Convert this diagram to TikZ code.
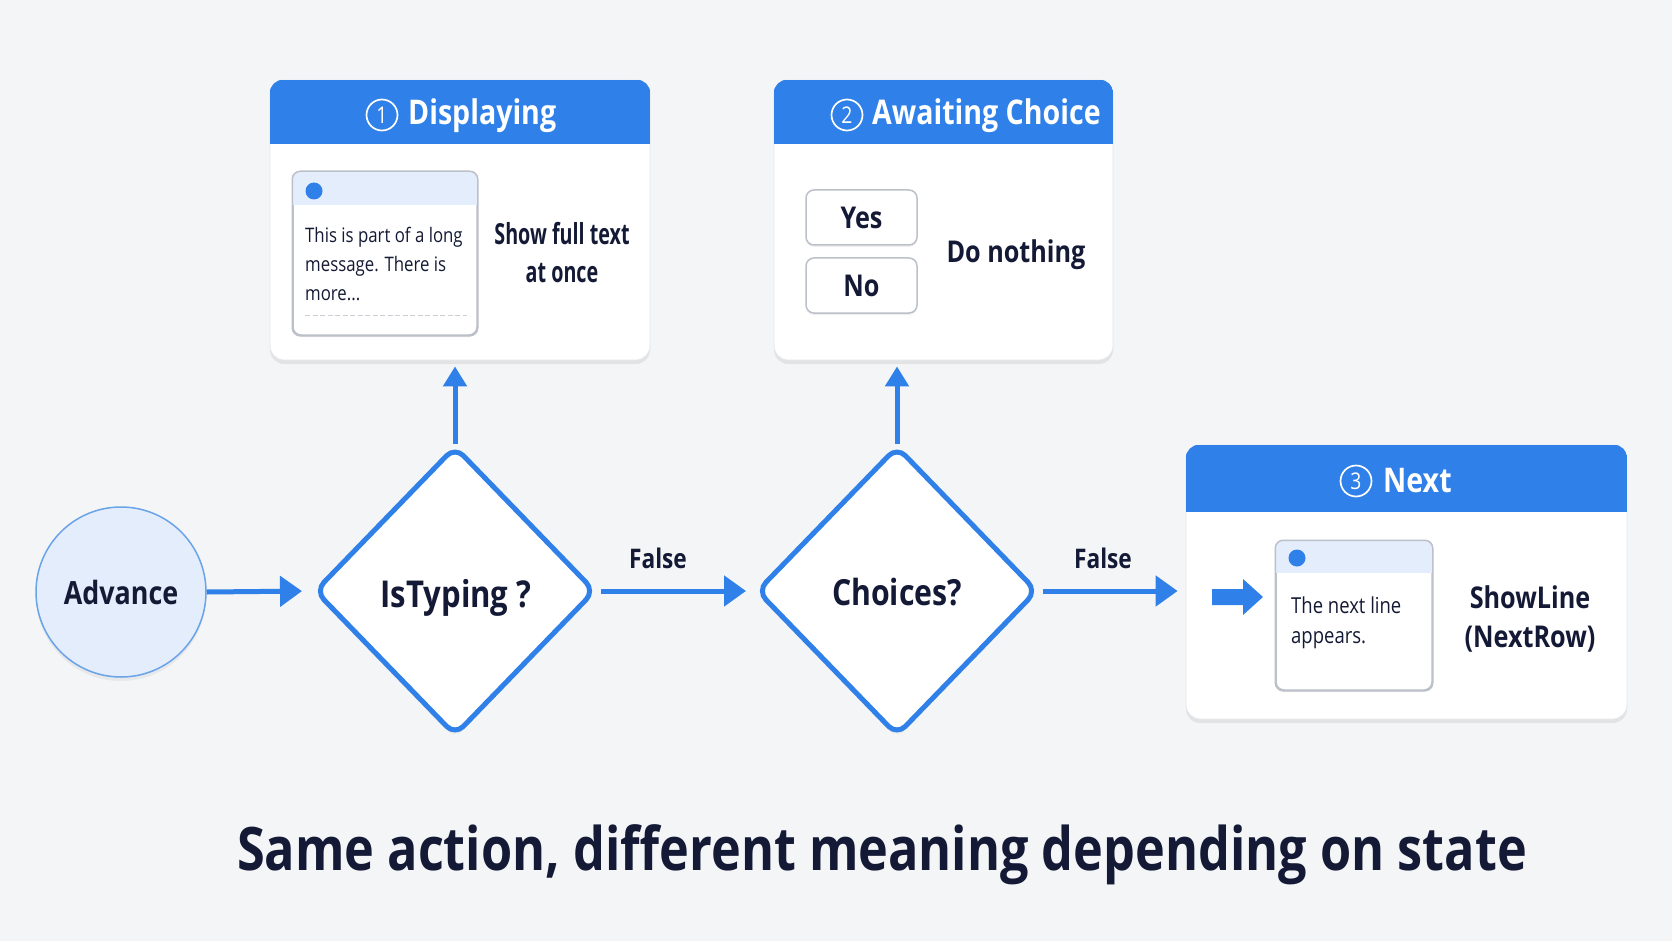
\documentclass[tikz,border=0pt]{standalone}
\usepackage{fontspec}
\setmainfont{Open Sans}[FakeStretch=0.84]
\newfontfamily\narrowfont{Open Sans}[FakeStretch=0.68]
\usetikzlibrary{shapes.geometric,arrows.meta,shadows}
\definecolor{bg}{HTML}{F4F5F7}
\definecolor{accent}{HTML}{2F80E8}
\definecolor{ink}{HTML}{141A35}
\definecolor{lightblue}{HTML}{E3EDFB}
\definecolor{ringblue}{HTML}{6AA3E8}
\definecolor{boxgray}{HTML}{BCC0C8}
\definecolor{cardline}{HTML}{E4E6EA}
\definecolor{dashgray}{HTML}{CDD0D6}
\newcommand{\fsz}[1]{\fontsize{#1}{#1}\selectfont}
\begin{document}
\begin{tikzpicture}[x=1pt,y=-1pt,
  card/.style={draw=cardline, line width=0.8pt, fill=white, rounded corners=14pt, inner sep=0pt,
    drop shadow={shadow xshift=0pt, shadow yshift=-4pt, opacity=0.07, fill=black}},
  msgbox/.style={draw=boxgray, line width=1.5pt, fill=white, rounded corners=8pt, inner sep=0pt,
    drop shadow={shadow xshift=0pt, shadow yshift=-2pt, opacity=0.06, fill=black}},
  btn/.style={msgbox, minimum width=111pt, minimum height=55pt, font=\bfseries\fsz{30}, text=ink},
  dia/.style={shape=diamond, draw=accent, line width=5pt, fill=white, rounded corners=12pt,
    minimum width=281pt, minimum height=290pt, inner sep=0pt,
    drop shadow={shadow xshift=0pt, shadow yshift=-4pt, opacity=0.05, fill=black}},
  arr/.style={draw=accent, line width=5pt, -{Triangle[length=22pt,width=30pt]}},
  uparr/.style={draw=accent, line width=5pt, -{Triangle[length=20pt,width=23pt]}},
  numc/.style={circle, draw=white, line width=1.7pt, minimum size=31pt, inner sep=0pt, text=white, font=\fsz{23}},
  hdr/.style={anchor=base west, text=white, font=\bfseries\fsz{34}, inner sep=0pt},
  lbl/.style={anchor=base, text=ink, font=\bfseries\fsz{30}, inner sep=0pt},
  msg/.style={anchor=base west, text=ink, font=\fsz{20}, inner sep=0pt},
  dot/.style={circle, fill=accent, minimum size=17pt, inner sep=0pt},
]
\useasboundingbox (0,0) rectangle (1672,941);
\fill[bg] (0,0) rectangle (1672,941);

% ---------- cards ----------
\node[card, minimum width=380pt, minimum height=280pt] (disp) at (460,220) {};
\node[card, minimum width=339pt, minimum height=280pt] (await) at (943.5,220) {};
\node[card, minimum width=441pt, minimum height=274pt] (nxt) at (1406.5,582) {};

\begin{scope}
\clip[rounded corners=14pt] (disp.south west) rectangle (disp.north east);
\fill[accent] (disp.north west) rectangle ([yshift=-64pt]disp.north east);
\end{scope}
\begin{scope}
\clip[rounded corners=14pt] (await.south west) rectangle (await.north east);
\fill[accent] (await.north west) rectangle ([yshift=-64pt]await.north east);
\end{scope}
\begin{scope}
\clip[rounded corners=14pt] (nxt.south west) rectangle (nxt.north east);
\fill[accent] (nxt.north west) rectangle ([yshift=-67pt]nxt.north east);
\end{scope}

% header titles
\node[numc] (n1) at (382,115) {1};
\node[hdr] (t1) at (408,125) {Displaying};
\node[numc] (n2) at (847,115) {2};
\node[hdr] (t2) at (872,125) {Awaiting Choice};
\node[numc] (n3) at (1356,481) {3};
\node[hdr] (t3) at (1383,492) {Next};

% ---------- card 1 content ----------
\node[msgbox, minimum width=184pt, minimum height=163pt] (m1) at (385,253.5) {};
\begin{scope}
\clip[rounded corners=8pt] (m1.south west) rectangle (m1.north east);
\fill[lightblue] (m1.north west) rectangle ([yshift=-34pt]m1.north east);
\end{scope}
\draw[boxgray, line width=1.5pt, rounded corners=8pt] (m1.south west) rectangle (m1.north east);
\node[dot] (d1) at (314,191) {};
\node[msg] (m1a) at (305,243) {This is part of a long};
\node[msg] (m1b) at (305,271) {message. There is};
\node[msg] (m1c) at (305,300) {more...};
\draw[dashgray, line width=1pt, dash pattern=on 5pt off 2.5pt] (305,315) -- (467,315);
\node[lbl, font=\narrowfont\bfseries\fsz{29}] (s1) at (562,245) {Show full text};
\node[lbl, font=\narrowfont\bfseries\fsz{29}] (s2) at (562,282) {at once};

% ---------- card 2 content ----------
\node[btn] (yes) at (861.5,217.5) {Yes};
\node[btn] (no) at (861.5,285.5) {No};
\node[lbl] (dn) at (1016,262) {Do nothing};

% ---------- card 3 content ----------
\fill[accent] (1212,589) -- (1243,589) -- (1243,579) -- (1263,597) -- (1243,615) -- (1243,605) -- (1212,605) -- cycle;
\node[msgbox, minimum width=156pt, minimum height=149pt] (m3) at (1354,615.5) {};
\begin{scope}
\clip[rounded corners=8pt] (m3.south west) rectangle (m3.north east);
\fill[lightblue] (m3.north west) rectangle ([yshift=-33pt]m3.north east);
\end{scope}
\draw[boxgray, line width=1.5pt, rounded corners=8pt] (m3.south west) rectangle (m3.north east);
\node[dot] (d3) at (1297,558) {};
\node[msg, font=\fsz{22}] (m3a) at (1291,613) {The next line};
\node[msg, font=\fsz{22}] (m3b) at (1291,643) {appears.};
\node[lbl] (sl1) at (1530,608) {ShowLine};
\node[lbl] (sl2) at (1530,647) {(NextRow)};

% ---------- flow ----------
\node[circle, fill=lightblue, draw=ringblue, line width=1.5pt, minimum size=170pt, inner sep=0pt,
  font=\bfseries\fsz{32}, text=ink,
  drop shadow={shadow xshift=0pt, shadow yshift=-4pt, opacity=0.05, fill=black}] (adv) at (121,592) {Advance};
\node[dia] (ist) at (455,591) {};
\node[dia] (ch) at (897,591) {};
\node[lbl, font=\bfseries\fsz{37}] (istl) at (456,607) {IsTyping ?};
\node[lbl, font=\bfseries\fsz{36}] (chl) at (897,605) {Choices?};

\draw[arr, shorten >=10pt] (adv.east) -- (ist.west);
\draw[arr, shorten <=3pt, shorten >=8pt] (ist.east) -- (ch.west);
\draw[arr, shorten <=3pt, shorten >=8pt] (ch.east) -- (ch.east -| nxt.west);
\draw[uparr, shorten >=6pt] (ist.north) -- (ist.north |- disp.south);
\draw[uparr, shorten >=6pt] (ch.north) -- (ch.north |- await.south);

\node[lbl, font=\bfseries\fsz{27}] (f1) at (658,568) {False};
\node[lbl, font=\bfseries\fsz{27}] (f2) at (1103,568) {False};

% ---------- title ----------
\node[anchor=base, text=ink, font=\bfseries\fsz{60}, inner sep=0pt] (title) at (882,870)
  {Same action, different meaning depending on state};
\end{tikzpicture}
\end{document}
